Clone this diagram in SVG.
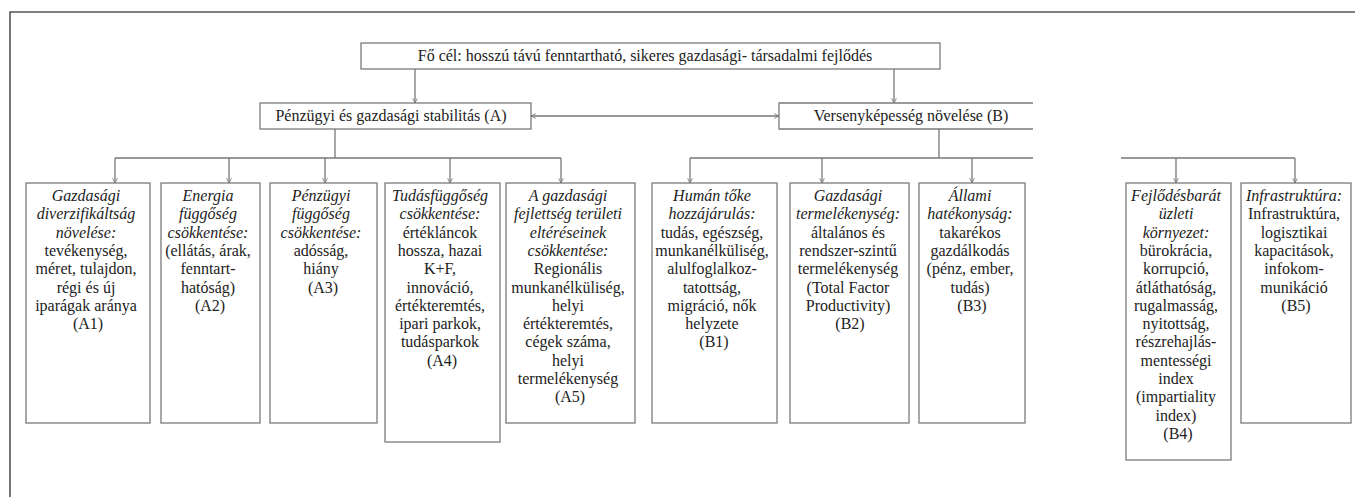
<svg xmlns="http://www.w3.org/2000/svg" width="1355" height="497" viewBox="0 0 1355 497">
<style>
.bx{fill:#fff;stroke:#7a7a7a;stroke-width:1.3}
.fr{fill:none;stroke:#555;stroke-width:1.6}
.ln{fill:none;stroke:#777;stroke-width:1.3}
text{font-family:"Liberation Serif","Times New Roman",serif;font-size:16px;fill:#222;text-anchor:middle}
.i{font-style:italic}
</style>
<defs>
<marker id="ah" viewBox="0 0 10 10" refX="9" refY="5" markerWidth="6" markerHeight="6" orient="auto-start-reverse" markerUnits="userSpaceOnUse">
<path d="M1,1 L9,5 L1,9" fill="none" stroke="#777" stroke-width="1.4"/>
</marker>
</defs>
<rect width="1355" height="497" fill="#fff"/>
<path class="fr" d="M10,497 V12 H1355"/>

<g id="connectors">
<path class="ln" d="M415,69 V103" marker-end="url(#ah)"/>
<path class="ln" d="M894,69 V103" marker-end="url(#ah)"/>
<path class="ln" d="M531,116 H779" marker-start="url(#ah)" marker-end="url(#ah)"/>
<path class="ln" d="M335,129 V158"/>
<path class="ln" d="M115,158 H561"/>
<path class="ln" d="M115,158 V183" marker-end="url(#ah)"/>
<path class="ln" d="M229,158 V183" marker-end="url(#ah)"/>
<path class="ln" d="M325,158 V183" marker-end="url(#ah)"/>
<path class="ln" d="M450,158 V183" marker-end="url(#ah)"/>
<path class="ln" d="M561,158 V183" marker-end="url(#ah)"/>
<path class="ln" d="M939,129 V158"/>
<path class="ln" d="M690,158 H1033"/>
<path class="ln" d="M690,158 V183" marker-end="url(#ah)"/>
<path class="ln" d="M822,158 V183" marker-end="url(#ah)"/>
<path class="ln" d="M972,158 V183" marker-end="url(#ah)"/>
<path class="ln" d="M1121,158 H1295"/>
<path class="ln" d="M1176,158 V183" marker-end="url(#ah)"/>
<path class="ln" d="M1295,158 V183" marker-end="url(#ah)"/>
</g>

<g id="main">
<rect class="bx" x="361" y="43" width="579" height="26"/>
<text x="645" y="61">Fő cél: hosszú távú fenntartható, sikeres gazdasági- társadalmi fejlődés</text>
</g>

<g id="A">
<rect class="bx" x="260" y="103" width="271" height="26"/>
<text x="391" y="121">Pénzügyi és gazdasági stabilitás (A)</text>
</g>

<g id="B">
<path class="bx" d="M1033,103 H779 V129 H1033"/>
<text x="911" y="121">Versenyképesség növelése (B)</text>
</g>

<g id="A1">
<rect class="bx" x="26" y="183" width="124" height="240"/>
<text>
<tspan class="i" x="88" y="201">Gazdasági</tspan>
<tspan class="i" x="88" y="219.3">diverzifikáltság</tspan>
<tspan class="i" x="88" y="237.6">növelése:</tspan>
<tspan x="88" y="255.9">tevékenység,</tspan>
<tspan x="88" y="274.2">méret, tulajdon,</tspan>
<tspan x="88" y="292.5">régi és új</tspan>
<tspan x="88" y="310.8">iparágak aránya</tspan>
<tspan x="88" y="329.1">(A1)</tspan>
</text>
</g>

<g id="A2">
<rect class="bx" x="161" y="183" width="99" height="240"/>
<text>
<tspan class="i" x="210" y="201">Energia</tspan>
<tspan class="i" x="210" y="219.3">függőség</tspan>
<tspan class="i" x="210" y="237.6">csökkentése:</tspan>
<tspan x="210" y="255.9">(ellátás, árak,</tspan>
<tspan x="210" y="274.2">fenntart-</tspan>
<tspan x="210" y="292.5">hatóság)</tspan>
<tspan x="210" y="310.8">(A2)</tspan>
</text>
</g>

<g id="A3">
<rect class="bx" x="270" y="183" width="107" height="240"/>
<text>
<tspan class="i" x="323" y="201">Pénzügyi</tspan>
<tspan class="i" x="323" y="219.3">függőség</tspan>
<tspan class="i" x="323" y="237.6">csökkentése:</tspan>
<tspan x="323" y="255.9">adósság,</tspan>
<tspan x="323" y="274.2">hiány</tspan>
<tspan x="323" y="292.5">(A3)</tspan>
</text>
</g>

<g id="A4">
<rect class="bx" x="385" y="183" width="115" height="259"/>
<text>
<tspan class="i" x="442" y="201">Tudásfüggőség</tspan>
<tspan class="i" x="442" y="219.3">csökkentése:</tspan>
<tspan x="442" y="237.6">értékláncok</tspan>
<tspan x="442" y="255.9">hossza, hazai</tspan>
<tspan x="442" y="274.2">K+F,</tspan>
<tspan x="442" y="292.5">innováció,</tspan>
<tspan x="442" y="310.8">értékteremtés,</tspan>
<tspan x="442" y="329.1">ipari parkok,</tspan>
<tspan x="442" y="347.4">tudásparkok</tspan>
<tspan x="442" y="365.7">(A4)</tspan>
</text>
</g>

<g id="A5">
<rect class="bx" x="506" y="183" width="129" height="240"/>
<text>
<tspan class="i" x="570" y="201">A gazdasági</tspan>
<tspan class="i" x="570" y="219.3">fejlettség területi</tspan>
<tspan class="i" x="570" y="237.6">eltéréseinek</tspan>
<tspan class="i" x="570" y="255.9">csökkentése:</tspan>
<tspan x="570" y="274.2">Regionális</tspan>
<tspan x="570" y="292.5">munkanélküliség,</tspan>
<tspan x="570" y="310.8">helyi</tspan>
<tspan x="570" y="329.1">értékteremtés,</tspan>
<tspan x="570" y="347.4">cégek száma,</tspan>
<tspan x="570" y="365.7">helyi</tspan>
<tspan x="570" y="384">termelékenység</tspan>
<tspan x="570" y="402.3">(A5)</tspan>
</text>
</g>

<g id="B1">
<rect class="bx" x="652" y="183" width="125" height="240"/>
<text>
<tspan class="i" x="714" y="201">Humán tőke</tspan>
<tspan class="i" x="714" y="219.3">hozzájárulás:</tspan>
<tspan x="714" y="237.6">tudás, egészség,</tspan>
<tspan x="714" y="255.9">munkanélküliség,</tspan>
<tspan x="714" y="274.2">alulfoglalkoz-</tspan>
<tspan x="714" y="292.5">tatottság,</tspan>
<tspan x="714" y="310.8">migráció, nők</tspan>
<tspan x="714" y="329.1">helyzete</tspan>
<tspan x="714" y="347.4">(B1)</tspan>
</text>
</g>

<g id="B2">
<rect class="bx" x="790" y="183" width="119" height="240"/>
<text>
<tspan class="i" x="850" y="201">Gazdasági</tspan>
<tspan class="i" x="850" y="219.3">termelékenység:</tspan>
<tspan x="850" y="237.6">általános és</tspan>
<tspan x="850" y="255.9">rendszer-szintű</tspan>
<tspan x="850" y="274.2">termelékenység</tspan>
<tspan x="850" y="292.5">(Total Factor</tspan>
<tspan x="850" y="310.8">Productivity)</tspan>
<tspan x="850" y="329.1">(B2)</tspan>
</text>
</g>

<g id="B3">
<rect class="bx" x="919" y="183" width="106" height="240"/>
<text>
<tspan class="i" x="972" y="201">Állami</tspan>
<tspan class="i" x="972" y="219.3">hatékonyság:</tspan>
<tspan x="972" y="237.6">takarékos</tspan>
<tspan x="972" y="255.9">gazdálkodás</tspan>
<tspan x="972" y="274.2">(pénz, ember,</tspan>
<tspan x="972" y="292.5">tudás)</tspan>
<tspan x="972" y="310.8">(B3)</tspan>
</text>
</g>

<g id="B4">
<rect class="bx" x="1126" y="183" width="105" height="277"/>
<text>
<tspan class="i" x="1178" y="201">Fejlődésbarát</tspan>
<tspan class="i" x="1178" y="219.3">üzleti</tspan>
<tspan class="i" x="1178" y="237.6">környezet:</tspan>
<tspan x="1178" y="255.9">bürokrácia,</tspan>
<tspan x="1178" y="274.2">korrupció,</tspan>
<tspan x="1178" y="292.5">átláthatóság,</tspan>
<tspan x="1178" y="310.8">rugalmasság,</tspan>
<tspan x="1178" y="329.1">nyitottság,</tspan>
<tspan x="1178" y="347.4">részrehajlás-</tspan>
<tspan x="1178" y="365.7">mentességi</tspan>
<tspan x="1178" y="384">index</tspan>
<tspan x="1178" y="402.3">(impartiality</tspan>
<tspan x="1178" y="420.6">index)</tspan>
<tspan x="1178" y="438.9">(B4)</tspan>
</text>
</g>

<g id="B5">
<rect class="bx" x="1241" y="183" width="110" height="240"/>
<text>
<tspan class="i" x="1296" y="201">Infrastruktúra:</tspan>
<tspan x="1296" y="219.3">Infrastruktúra,</tspan>
<tspan x="1296" y="237.6">logisztikai</tspan>
<tspan x="1296" y="255.9">kapacitások,</tspan>
<tspan x="1296" y="274.2">infokom-</tspan>
<tspan x="1296" y="292.5">munikáció</tspan>
<tspan x="1296" y="310.8">(B5)</tspan>
</text>
</g>
</svg>
